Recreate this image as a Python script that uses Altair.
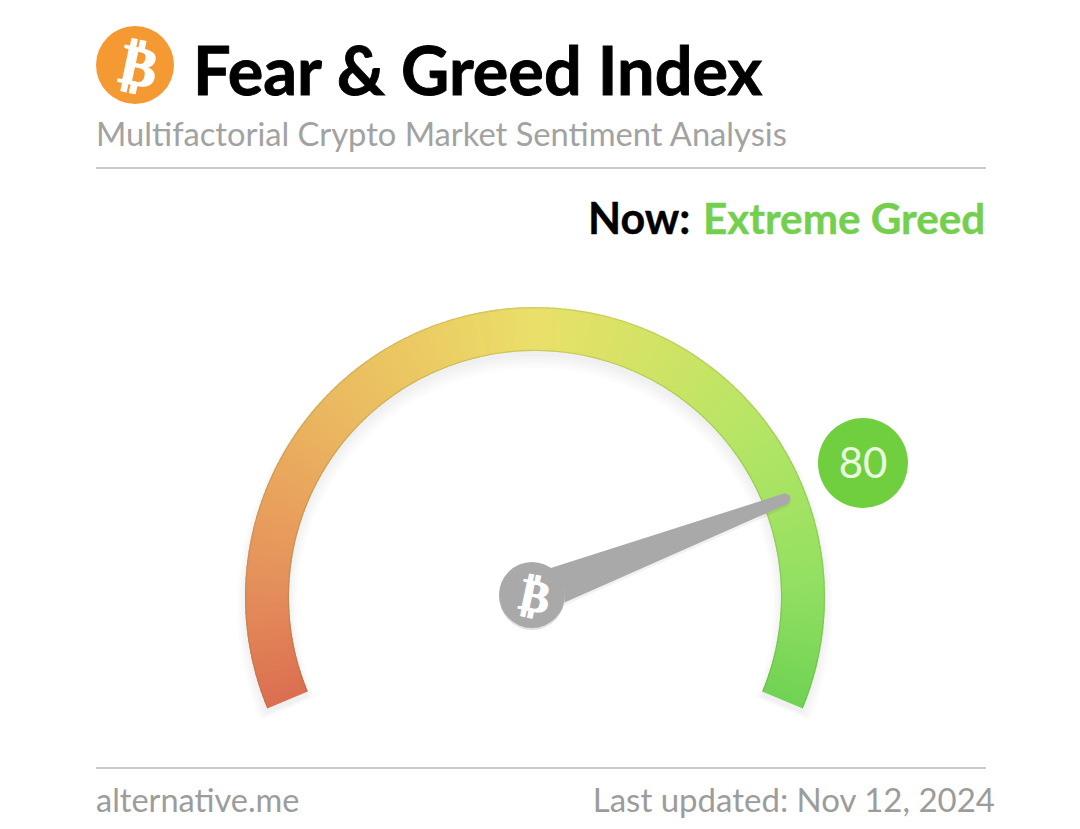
import altair as alt
import pandas as pd
import numpy as np

W, H = 1064, 813
index_value = 80
gauge_min, gauge_max = 0, 100
stop_values = [0, 12, 28, 50, 72, 88, 100]
stop_colors = ["#dc6f52", "#e5925c", "#eab760", "#e9e06a", "#b8e565", "#93e062", "#6fd254"]

titles = ["Fear & Greed Index"]
subtitle = ["Multifactorial Crypto Market Sentiment Analysis"]
now_label = "Now:"
now_value = "Extreme Greed"
footer_left = "alternative.me"
footer_right = "Last updated: Nov 12, 2024"

X = alt.Scale(domain=[8, 8 + W], range=[0, W])
Y = alt.Scale(domain=[8, 8 + H], range=[0, H])
FONT = "Lato"


def xy(df):
    return dict(x=alt.X("x:Q", scale=X, axis=None), y=alt.Y("y:Q", scale=Y, axis=None))


def label(text, x, y, size, color, weight="normal", align="left", font=FONT, angle=0, heavy=0.0):
    df = pd.DataFrame({"x": [x], "y": [y], "t": [text]})
    kw = dict(stroke=color, strokeWidth=heavy) if heavy else {}
    return alt.Chart(df).mark_text(
        align=align, baseline="alphabetic", fontSize=size, font=font,
        fontWeight=weight, color=color, angle=angle, **kw
    ).encode(text="t:N", **xy(df))


def dot(x, y, r, color):
    df = pd.DataFrame({"x": [x], "y": [y]})
    return alt.Chart(df).mark_circle(size=float(4 * r * r), color=color, opacity=1).encode(**xy(df))


def hline(y):
    df = pd.DataFrame({"x": [96], "x2": [986], "y": [y]})
    return alt.Chart(df).mark_rule(color="#b9b9b9", strokeWidth=1.5).encode(x2="x2:Q", **xy(df))


step = 0.5
seg = pd.DataFrame({"a": np.arange(gauge_min, gauge_max, step)})
seg["b"] = np.minimum(seg["a"] + step * 1.6, gauge_max)
seg["x"] = 535
seg["y"] = 597
theta_scale = alt.Scale(domain=[gauge_min, gauge_max], range=[-1.965, 1.965])
theta = alt.Theta("a:Q", scale=theta_scale, stack=None)
theta2 = alt.Theta2("b:Q")


def band(df, r1, r0, **kw):
    return alt.Chart(df).mark_arc(radius=r1, radius2=r0, **kw)


gauge = band(seg, 290, 246).encode(
    theta=theta, theta2=theta2,
    color=alt.Color("a:Q", scale=alt.Scale(domain=stop_values, range=stop_colors), legend=None),
    **xy(seg),
)
whole = pd.DataFrame({"a": [gauge_min], "b": [gauge_max], "x": [535], "y": [597]})
shadows = [
    band(whole.assign(y=597 + dy), 290 + g, 246 - g, color="#000000", opacity=0.012).encode(
        theta=theta, theta2=theta2, **xy(whole))
    for dy, g in [(9, 8), (8, 6), (7, 4), (6, 2), (5, 0)]
]
edges = [
    band(whole, 290, 288.8, color="#5a7a30", opacity=0.18).encode(theta=theta, theta2=theta2, **xy(whole)),
    band(whole, 247.2, 246, color="#5a7a30", opacity=0.22).encode(theta=theta, theta2=theta2, **xy(whole)),
]

needle_x = [532, 785]
needle_y = [595, 499]
needle_w = [40, 11]
needle = pd.DataFrame({"x": needle_x, "y": needle_y, "w": needle_w, "o": [0, 1]})
needle_shadow = alt.Chart(needle.assign(y=needle["y"] + 3)).mark_trail(color="#000000", opacity=0.05).encode(
    size=alt.Size("w:Q", scale=None), order="o:Q", **xy(needle))
needle_mark = alt.Chart(needle).mark_trail(color="#a9a9a9").encode(
    size=alt.Size("w:Q", scale=None), order="o:Q", **xy(needle))

chart = alt.layer(
    dot(135, 65, 39, "#f59a32"),
    label("₿", 135, 85, 56, "#ffffff", weight="bold", align="center", font="DejaVu Sans", angle=12, heavy=1.2),
    label(titles[0], 193, 94.5, 66.6, "#000000", weight="bold", heavy=0.9),
    label(subtitle[0], 96, 146, 32.7, "#a2a2a2"),
    hline(168),
    label(now_label, 588, 233.5, 43, "#000000", weight="bold", heavy=0.4),
    label(now_value, 703, 233.5, 42.2, "#74cf4f", weight="bold", heavy=0.4),
    *shadows,
    gauge,
    *edges,
    needle_shadow,
    needle_mark,
    dot(532, 597, 33, "#e2e2e2"),
    dot(532, 595, 33, "#a9a9a9"),
    label("₿", 532, 611, 45, "#ffffff", weight="bold", align="center", font="DejaVu Sans", angle=12, heavy=1),
    dot(863, 463, 45, "#70cf3e"),
    label(str(index_value), 863, 478, 42, "#eafbe0", align="center"),
    hline(768),
    label(footer_left, 96, 812, 32.5, "#9c9c9c"),
    label(footer_right, 995, 812, 33, "#9c9c9c", align="right"),
).properties(
    width=W, height=H, padding=0, autosize=alt.AutoSizeParams(type="none"), background="#ffffff"
).configure_view(stroke=None)

chart.save("out.html", embed_options={"renderer": "svg", "actions": False})
